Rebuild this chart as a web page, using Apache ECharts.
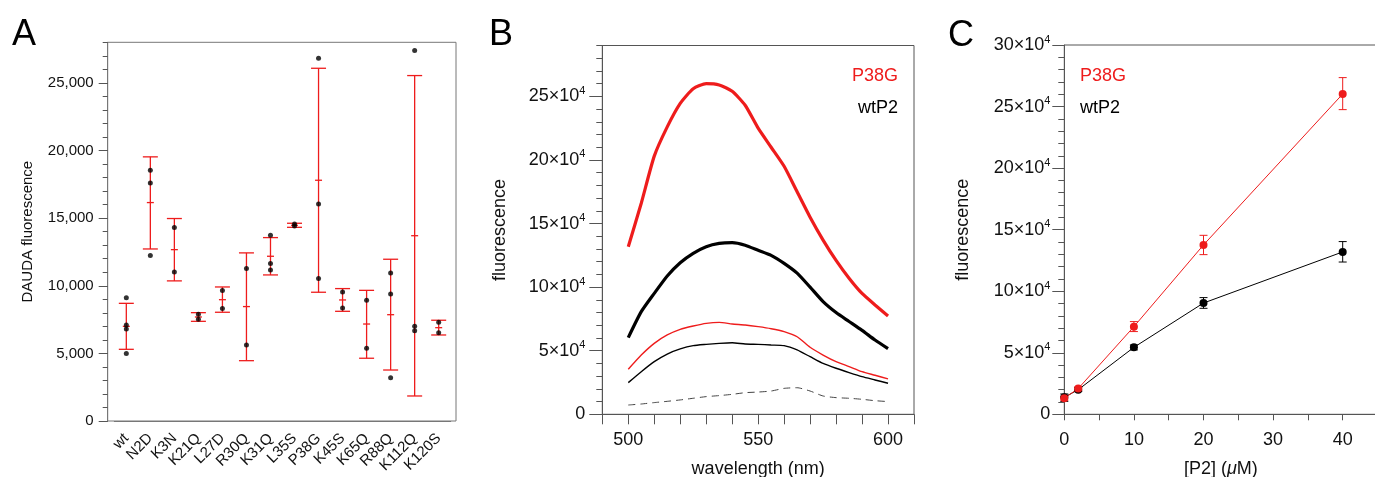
<!DOCTYPE html>
<html><head><meta charset="utf-8">
<script src="https://cdn.jsdelivr.net/npm/echarts@6/dist/echarts.min.js"></script>
<style>html,body{margin:0;padding:0;background:#fff}#c{width:1375px;height:477px}</style>
</head><body><div id="c"></div>
<script>
const FONT = '"Liberation Sans", Arial, Helvetica, sans-serif';
const RED = '#ee1c1c';

// ---------- Panel A ----------
const mutants = ['wt','N2D','K3N','K21Q','L27D','R30Q','K31Q','L35S','P38G','K45S','K65Q','R88Q','K112Q','K120S'];
const replicates = [
  [9120,7100,6800,5000],[18540,17600,12230],[14300,11020],[7890,7520],[9640,8310],
  [11270,5620],[13730,11640,11170],[14570,14420],[26820,16050,10530],[9540,8360],
  [8920,5370],[10950,9390,3200],[27390,7000,6680],[7300,6530]
];
const meanA = [7000,16150,12670,7690,8970,8460,12180,14470,17800,8950,7170,7860,13700,6900];
const lowA  = [5300,12720,10360,7370,8040,4460,10800,14320,9520,8110,4640,3770,1850,6360];
const highA = [8700,19530,14970,8010,9910,12430,13560,14620,26080,9790,9660,11960,25540,7450];
const yMajorA = [0,5000,10000,15000,20000,25000];

// ---------- Panel B (values in units of 10^4) ----------
const wavelength = [500,505,510,515,520,525,530,535,540,545,550,555,560,565,570,575,580,585,590,595,600];
const p38gBound = [13.18,16.6,20.3,22.6,24.45,25.6,26.0,25.9,25.4,24.3,22.5,21.0,19.5,17.5,15.5,13.7,12.1,10.7,9.5,8.6,7.73];
const wtBound   = [6.03,8.07,9.51,10.88,11.92,12.66,13.18,13.44,13.5,13.3,12.9,12.5,11.87,11.1,10.0,8.86,8.0,7.3,6.6,5.84,5.16];
const p38gFree  = [3.54,4.66,5.58,6.24,6.68,6.94,7.15,7.23,7.1,7.02,6.89,6.73,6.5,6.1,5.27,4.66,4.14,3.75,3.35,3.07,2.78];
const wtFree    = [2.49,3.35,4.14,4.74,5.14,5.4,5.5,5.58,5.63,5.53,5.5,5.45,5.4,5.06,4.53,4.0,3.62,3.28,2.96,2.7,2.44];
const daudaOnly = [0.73,0.81,0.92,1.02,1.13,1.26,1.39,1.47,1.57,1.70,1.75,1.83,2.04,2.09,1.83,1.44,1.31,1.26,1.18,1.07,1.0];
const yMajorB = [0,5,10,15,20,25];
const xLabelsB = [500,550,600];

// ---------- Panel C (values in units of 10^4) ----------
const conc = [0,2,10,20,40];
const p38gC     = [1.30,2.09,7.12,13.76,26.02];
const p38gCLow  = [1.15,1.95,6.72,12.97,24.75];
const p38gCHigh = [1.45,2.22,7.53,14.54,27.35];
const wtC       = [1.38,2.0,5.44,9.04,13.19];
const wtCLow    = [1.05,1.85,5.23,8.61,12.37];
const wtCHigh   = [1.65,2.18,5.63,9.48,14.03];
const yMajorC = [0,5,10,15,20,25,30];
const xLabelsC = [0,10,20,30,40];

// ---------- helpers ----------
const tickLabel = {fontFamily: FONT, color: '#111'};
function supFmt(v){ return v === 0 ? '{m|0}' : '{m|' + v + '×10}{s|4}'; }
const supRich = {
  m: {fontSize: 18, fontFamily: FONT, color: '#111', lineHeight: 22},
  s: {fontSize: 11, fontFamily: FONT, color: '#111', verticalAlign: 'top', lineHeight: 13}
};

function errorBarSeries(xi, yi, data, color, capW, meanW, lw){
  return {
    type: 'custom', xAxisIndex: xi, yAxisIndex: yi, data: data, silent: true,
    renderItem: function(params, api){
      const x = api.value(0);
      const lo = api.coord([x, api.value(1)]);
      const hi = api.coord([x, api.value(2)]);
      const st = {stroke: color, lineWidth: lw};
      const ch = [
        {type:'line', shape:{x1:lo[0], y1:lo[1], x2:hi[0], y2:hi[1]}, style: st},
        {type:'line', shape:{x1:lo[0]-capW/2, y1:lo[1], x2:lo[0]+capW/2, y2:lo[1]}, style: st},
        {type:'line', shape:{x1:hi[0]-capW/2, y1:hi[1], x2:hi[0]+capW/2, y2:hi[1]}, style: st}
      ];
      if (meanW) {
        const m = api.coord([x, api.value(3)]);
        ch.push({type:'line', shape:{x1:m[0]-meanW/2, y1:m[1], x2:m[0]+meanW/2, y2:m[1]}, style: st});
      }
      return {type:'group', children: ch};
    }
  };
}

const dotsA = [];
replicates.forEach((arr, i) => arr.forEach(v => dotsA.push([i, v])));
const barsA = mutants.map((m, i) => [i, lowA[i], highA[i], meanA[i]]);
const pair = (xs, ys) => xs.map((x, i) => [x, ys[i]]);
const letterStyle = {fontSize:36, fontWeight:'normal', fontFamily:FONT, color:'#000'};
const legStyle = c => ({fontSize:18, fontWeight:'normal', fontFamily:FONT, color:c});

const option = {
  animation: false,
  backgroundColor: '#fff',
  title: [
    {text:'A', left: 12, top: 17, padding: 0, textStyle: letterStyle},
    {text:'B', left: 489, top: 17, padding: 0, textStyle: letterStyle},
    {text:'C', left: 948, top: 18, padding: 0, textStyle: letterStyle},
    {text:'P38G', right: 477, top: 67, padding: 0, textStyle: legStyle(RED)},
    {text:'wtP2', right: 477, top: 99, padding: 0, textStyle: legStyle('#000')},
    {text:'P38G', left: 1080, top: 67, padding: 0, textStyle: legStyle(RED)},
    {text:'wtP2', left: 1080, top: 99, padding: 0, textStyle: legStyle('#000')}
  ],
  grid: [
    {left: 107.7, right: 919, top: 42.3, bottom: 56, outerBoundsMode: 'none', containLabel: false, show: true, borderColor: '#777', borderWidth: 1, backgroundColor: 'transparent'},
    {left: 114.3, right: 924.3, top: 42.3, bottom: 56, outerBoundsMode: 'none', containLabel: false},
    {left: 602.3, right: 461, top: 45.5, bottom: 62.7, outerBoundsMode: 'none', containLabel: false, show: true, borderColor: '#555', borderWidth: 1, backgroundColor: 'transparent'},
    {left: 1064.3, right: -2.5, top: 45, bottom: 62.7, outerBoundsMode: 'none', containLabel: false, show: true, borderColor: '#555', borderWidth: 1, backgroundColor: 'transparent'}
  ],
  xAxis: [
    {gridIndex: 0, type: 'value', show: false, min: 0, max: 1},
    {gridIndex: 1, type: 'category', position: 'bottom', data: mutants, boundaryGap: true,
      axisLine: {lineStyle: {color: '#777'}},
      axisTick: {interval: 0, length: 9, lineStyle: {color: '#555'}},
      axisLabel: Object.assign({interval: 0, rotate: 45, margin: 15, fontSize: 15}, tickLabel),
      splitLine: {show: false}},
    {gridIndex: 2, type: 'value', position: 'bottom', min: 490, max: 610, interval: 10,
      axisLine: {lineStyle: {color: '#555'}},
      axisTick: {length: 10, lineStyle: {color: '#555'}},
      axisLabel: Object.assign({fontSize: 18, margin: 17, formatter: v => xLabelsB.includes(v) ? String(v) : ''}, tickLabel),
      splitLine: {show: false},
      name: 'wavelength (nm)', nameLocation: 'middle', nameGap: 46,
      nameTextStyle: {fontSize: 18, fontFamily: FONT, color: '#111'}},
    {gridIndex: 3, type: 'value', position: 'bottom', min: 0, max: 45, interval: 5,
      axisLine: {lineStyle: {color: '#555'}},
      axisTick: {length: 6, lineStyle: {color: '#555'}},
      axisLabel: Object.assign({fontSize: 18, margin: 17, formatter: v => xLabelsC.includes(v) ? String(v) : ''}, tickLabel),
      splitLine: {show: false},
      name: '{t|[P2] (}{i|μ}{t|M)}', nameLocation: 'middle', nameGap: 46,
      nameTextStyle: {fontSize: 18, fontFamily: FONT, color: '#111', rich: {
        t: {fontSize: 18, fontFamily: FONT, color: '#111'},
        i: {fontSize: 18, fontFamily: FONT, color: '#111', fontStyle: 'italic'}}}}
  ],
  yAxis: [
    {gridIndex: 0, type: 'value', show: false, min: 0, max: 1},
    {gridIndex: 1, type: 'value', position: 'left', min: 0, max: 28000, interval: 1000, offset: 6.6,
      axisLine: {show: true, lineStyle: {color: '#777'}},
      axisTick: {show: true, length: 5, lineStyle: {color: '#555'}},
      axisLabel: {show: false}, splitLine: {show: false}},
    {gridIndex: 1, type: 'value', position: 'left', min: 0, max: 28000, interval: 5000, offset: 6.6,
      axisLine: {show: false},
      axisTick: {show: true, length: 9, customValues: yMajorA, lineStyle: {color: '#555'}},
      axisLabel: Object.assign({fontSize: 15, margin: 14, customValues: yMajorA, formatter: v => v.toLocaleString('en-US')}, tickLabel),
      splitLine: {show: false},
      name: 'DAUDA fluorescence', nameLocation: 'middle', nameGap: 72,
      nameTextStyle: {fontSize: 15, fontFamily: FONT, color: '#111'}},
    {gridIndex: 2, type: 'value', position: 'left', min: 0, max: 29, interval: 1,
      axisLine: {show: true, lineStyle: {color: '#555'}},
      axisTick: {show: true, length: 6, lineStyle: {color: '#555'}},
      axisLabel: {show: false}, splitLine: {show: false}},
    {gridIndex: 2, type: 'value', position: 'left', min: 0, max: 29, interval: 5,
      axisLine: {show: false},
      axisTick: {show: true, length: 13, customValues: yMajorB, lineStyle: {color: '#555'}},
      axisLabel: {customValues: yMajorB, margin: 17, formatter: supFmt, rich: supRich},
      splitLine: {show: false},
      name: 'fluorescence', nameLocation: 'middle', nameGap: 93,
      nameTextStyle: {fontSize: 18, fontFamily: FONT, color: '#111'}},
    {gridIndex: 3, type: 'value', position: 'left', min: 0, max: 30, interval: 1,
      axisLine: {show: true, lineStyle: {color: '#555'}},
      axisTick: {show: true, length: 6, lineStyle: {color: '#555'}},
      axisLabel: {show: false}, splitLine: {show: false}},
    {gridIndex: 3, type: 'value', position: 'left', min: 0, max: 30, interval: 5,
      axisLine: {show: false},
      axisTick: {show: true, length: 12, customValues: yMajorC, lineStyle: {color: '#555'}},
      axisLabel: {customValues: yMajorC, margin: 14, formatter: supFmt, rich: supRich},
      splitLine: {show: false},
      name: 'fluorescence', nameLocation: 'middle', nameGap: 92,
      nameTextStyle: {fontSize: 18, fontFamily: FONT, color: '#111'}}
  ],
  series: [
    // Panel A
    errorBarSeries(1, 2, barsA, RED, 15, 7, 1.3),
    {type: 'scatter', xAxisIndex: 1, yAxisIndex: 2, data: dotsA, symbol: 'circle', symbolSize: 5,
      itemStyle: {color: '#000'}, silent: true, z: 3},
    // Panel B
    {name: 'DAUDA', type: 'line', xAxisIndex: 2, yAxisIndex: 4, data: pair(wavelength, daudaOnly), showSymbol: false, smooth: 0.2,
      lineStyle: {color: '#444', width: 1, type: [7, 5]}},
    {name: 'wtP2', type: 'line', xAxisIndex: 2, yAxisIndex: 4, data: pair(wavelength, wtFree), showSymbol: false, smooth: 0.2,
      lineStyle: {color: '#000', width: 1.4}},
    {name: 'P38G', type: 'line', xAxisIndex: 2, yAxisIndex: 4, data: pair(wavelength, p38gFree), showSymbol: false, smooth: 0.2,
      lineStyle: {color: RED, width: 1.4}},
    {name: 'wtP2', type: 'line', xAxisIndex: 2, yAxisIndex: 4, data: pair(wavelength, wtBound), showSymbol: false, smooth: 0.2,
      lineStyle: {color: '#000', width: 3.2}},
    {name: 'P38G', type: 'line', xAxisIndex: 2, yAxisIndex: 4, data: pair(wavelength, p38gBound), showSymbol: false, smooth: 0.2,
      lineStyle: {color: RED, width: 3.2}},
    // Panel C
    errorBarSeries(3, 6, conc.map((c, i) => [c, wtCLow[i], wtCHigh[i]]), '#000', 8, 0, 1),
    {name: 'wtP2', type: 'line', xAxisIndex: 3, yAxisIndex: 6, data: pair(conc, wtC), symbol: 'circle', symbolSize: 8,
      itemStyle: {color: '#000'}, lineStyle: {color: '#000', width: 1}},
    errorBarSeries(3, 6, conc.map((c, i) => [c, p38gCLow[i], p38gCHigh[i]]), RED, 8, 0, 1),
    {name: 'P38G', type: 'line', xAxisIndex: 3, yAxisIndex: 6, data: pair(conc, p38gC), symbol: 'circle', symbolSize: 8,
      itemStyle: {color: RED}, lineStyle: {color: RED, width: 1}}
  ]
};
const chart = echarts.init(document.getElementById('c'), null, {renderer: 'canvas'});
chart.setOption(option);
</script></body></html>
